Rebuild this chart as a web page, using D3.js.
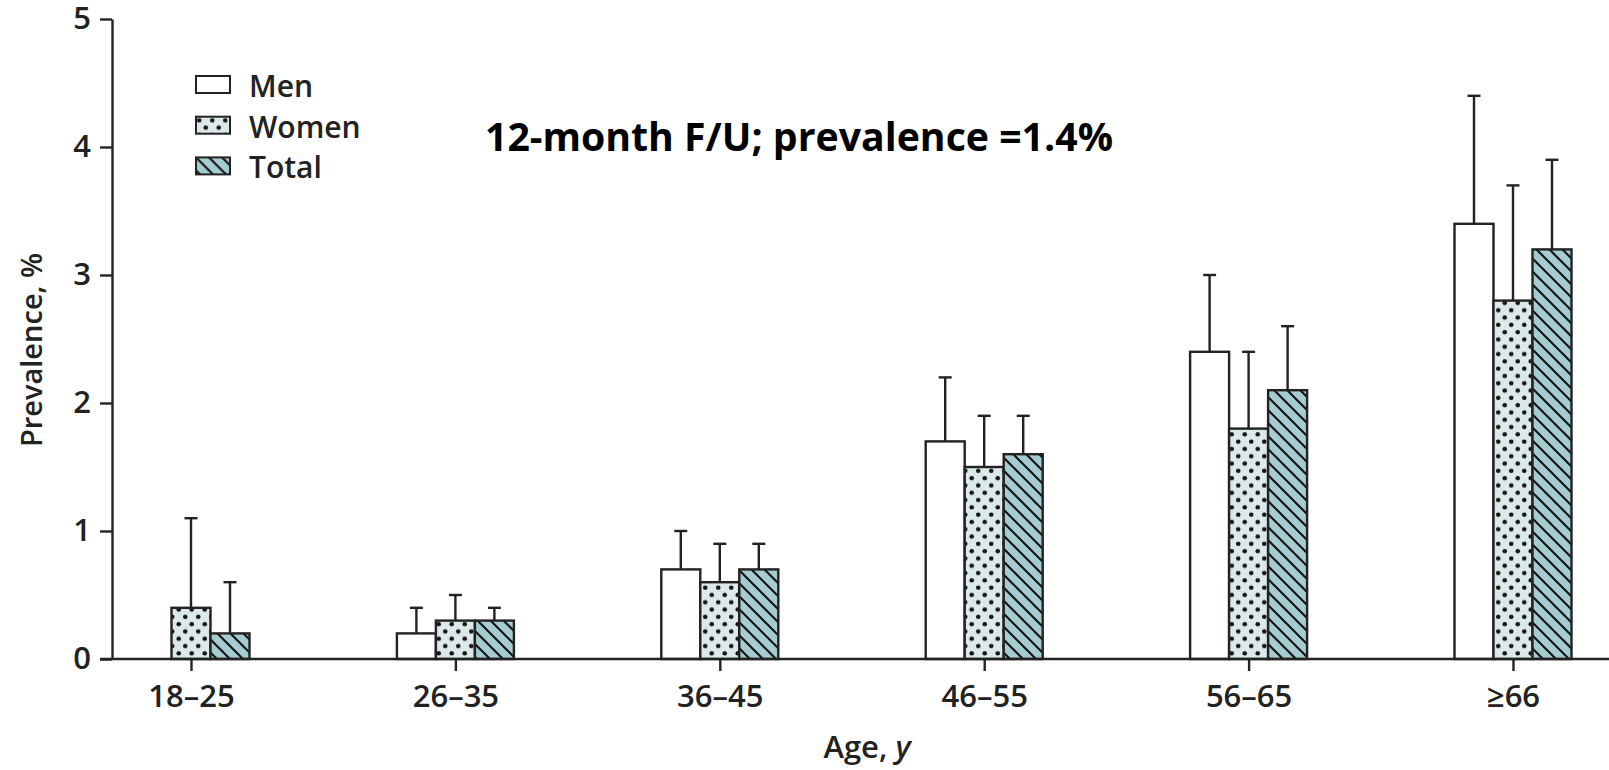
<!DOCTYPE html>
<html>
<head>
<meta charset="utf-8">
<script src="https://cdn.jsdelivr.net/npm/d3@7"></script>
<style>
  body { margin: 0; background: #fff; }
  svg text { font-family: "Open Sans", "Noto Sans", sans-serif; fill: #222; }
</style>
</head>
<body>
<div id="chart"></div>
<script>
var ageGroups = ["18–25", "26–35", "36–45", "46–55", "56–65", "≥66"];
var seriesNames = ["Men", "Women", "Total"];
// prevalence % per age group
var menValues   = [0,   0.2, 0.7, 1.7, 2.4, 3.4];
var womenValues = [0.4, 0.3, 0.6, 1.5, 1.8, 2.8];
var totalValues = [0.2, 0.3, 0.7, 1.6, 2.1, 3.2];
// upper end of error bars (null = none)
var menUpper   = [null, 0.4, 1.0, 2.2, 3.0, 4.4];
var womenUpper = [1.1,  0.5, 0.9, 1.9, 2.4, 3.7];
var totalUpper = [0.6,  0.4, 0.9, 1.9, 2.6, 3.9];
var yTicks = [0, 1, 2, 3, 4, 5];

var width = 1609, height = 770;
var ink = "#222";

var svg = d3.select("#chart").append("svg")
    .attr("width", width).attr("height", height);

var defs = svg.append("defs");
var dots = defs.append("pattern").attr("id", "dots")
    .attr("patternUnits", "userSpaceOnUse").attr("width", 13).attr("height", 14.6);
dots.append("rect").attr("width", 13).attr("height", 14.6).attr("fill", "#dbe9eb");
dots.append("circle").attr("cx", 3.25).attr("cy", 3.65).attr("r", 2.3).attr("fill", "#151515");
dots.append("circle").attr("cx", 9.75).attr("cy", 10.95).attr("r", 2.3).attr("fill", "#151515");

var stripes = defs.append("pattern").attr("id", "stripes")
    .attr("patternUnits", "userSpaceOnUse").attr("width", 13).attr("height", 13);
stripes.append("rect").attr("width", 13).attr("height", 13).attr("fill", "#a5ccd0");
stripes.append("path").attr("d", "M-2,-2L15,15M-2,11L2,15M11,-2L15,2")
    .attr("stroke", "#151515").attr("stroke-width", 2.2);

var fills = {Men: "#fff", Women: "url(#dots)", Total: "url(#stripes)"};

var series = [
  {name: "Men", values: menValues, upper: menUpper},
  {name: "Women", values: womenValues, upper: womenUpper},
  {name: "Total", values: totalValues, upper: totalUpper}
];

var y = d3.scaleLinear().domain([0, 5]).range([659, 19]);
var x = d3.scalePoint().domain(ageGroups).range([191, 1513]);
var xInner = d3.scaleBand().domain(seriesNames).range([-58.5, 58.5]);

// axes
var yAxis = svg.append("g").attr("transform", "translate(112,0)")
    .call(d3.axisLeft(y).tickValues(yTicks).tickFormat(d3.format("d"))
      .tickSize(12).tickSizeOuter(0).tickPadding(9));
yAxis.selectAll("text").style("font-size", "31px").style("font-weight", 600).attr("fill", ink);

var xAxis = svg.append("g").attr("transform", "translate(0,659)")
    .call(d3.axisBottom(x).tickSize(12).tickPadding(14));
xAxis.select(".domain").remove();
xAxis.selectAll("text").style("font-size", "31px").style("font-weight", 600).attr("fill", ink);

svg.selectAll(".domain, .tick line").attr("stroke", ink).attr("stroke-width", 2.4);

// bars
var groups = svg.selectAll(".series").data(series).enter().append("g");
groups.selectAll("rect").data(function(s) {
    return s.values.map(function(v, i) { return {name: s.name, age: ageGroups[i], value: v}; })
      .filter(function(d) { return d.value > 0; });
  }).enter().append("rect")
  .attr("x", function(d) { return x(d.age) + xInner(d.name); })
  .attr("y", function(d) { return y(d.value); })
  .attr("width", xInner.bandwidth())
  .attr("height", function(d) { return y(0) - y(d.value); })
  .attr("fill", function(d) { return fills[d.name]; })
  .attr("stroke", ink).attr("stroke-width", 2.4);

// error bars
var errs = groups.selectAll(".err").data(function(s) {
    return s.upper.map(function(u, i) { return {name: s.name, age: ageGroups[i], value: s.values[i], upper: u}; })
      .filter(function(d) { return d.upper != null; });
  }).enter().append("g").attr("class", "err")
  .attr("transform", function(d) { return "translate(" + (x(d.age) + xInner(d.name) + xInner.bandwidth() / 2) + ",0)"; });
errs.append("line")
  .attr("y1", function(d) { return y(d.value); })
  .attr("y2", function(d) { return y(d.upper); })
  .attr("stroke", ink).attr("stroke-width", 2.4);
errs.append("line")
  .attr("x1", -6.5).attr("x2", 6.5)
  .attr("y1", function(d) { return y(d.upper); })
  .attr("y2", function(d) { return y(d.upper); })
  .attr("stroke", ink).attr("stroke-width", 2.4);

// x baseline across the whole width
svg.append("line").attr("x1", 100).attr("x2", width)
  .attr("y1", y(0)).attr("y2", y(0))
  .attr("stroke", ink).attr("stroke-width", 2.4);

// axis titles
var xt = svg.append("text").attr("x", 867).attr("y", 758).attr("text-anchor", "middle")
  .style("font-size", "31px").style("font-weight", 600);
xt.append("tspan").text("Age, ");
xt.append("tspan").style("font-style", "italic").text("y");

svg.append("text").attr("transform", "translate(42,350) rotate(-90)")
  .attr("text-anchor", "middle").style("font-size", "29px").style("font-weight", 600)
  .text("Prevalence, %");

// legend
var legend = svg.append("g").attr("transform", "translate(196,76)");
var li = legend.selectAll("g").data(seriesNames).enter().append("g")
  .attr("transform", function(d, i) { return "translate(0," + i * 40.7 + ")"; });
li.append("rect").attr("width", 34).attr("height", 17)
  .attr("fill", function(d) { return fills[d]; })
  .attr("stroke", ink).attr("stroke-width", 2);
li.append("text").attr("x", 53).attr("y", 21).style("font-size", "30px")
  .style("font-weight", 600).text(function(d) { return d; });

// annotation
svg.append("text").attr("x", 485).attr("y", 151)
  .attr("textLength", 628).attr("lengthAdjust", "spacingAndGlyphs")
  .style("font-size", "40px").style("font-weight", 700)
  .style("fill", "#000")
  .text("12-month F/U; prevalence =1.4%");
</script>
</body>
</html>
